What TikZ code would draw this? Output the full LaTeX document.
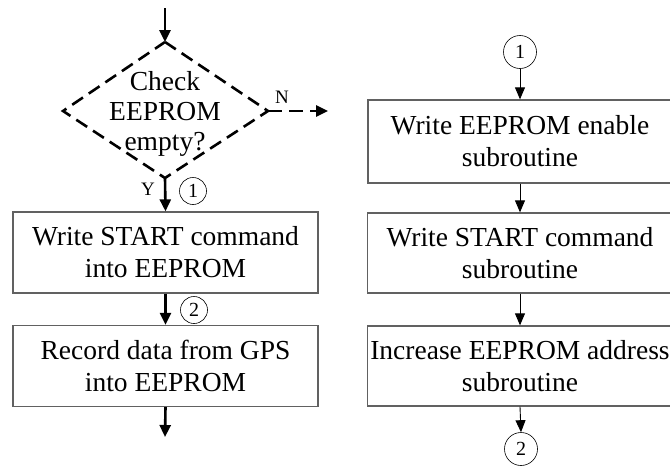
\documentclass[tikz,border=0pt]{standalone}
\usepackage{fontspec}
\setmainfont{Liberation Serif}
\usetikzlibrary{arrows.meta}

\begin{document}
\begin{tikzpicture}[x=1pt,y=-1pt,
  procbox/.style={draw=black!62, line width=1.3pt, minimum width=305pt,
    minimum height=81pt, align=center, inner sep=0pt,
    font=\fontsize{27.5}{32}\selectfont},
  bigflow/.style={line width=2.6pt, -{Triangle[width=11pt,length=12pt]}},
  thinflow/.style={line width=0.9pt, -{Triangle[width=10pt,length=12pt]}},
  connL/.style={circle, draw, line width=0.6pt, minimum size=27pt,
    inner sep=0pt, font=\fontsize{20}{20}\selectfont},
  connR/.style={circle, draw, line width=0.6pt, minimum size=33pt,
    inner sep=0pt, font=\fontsize{20}{20}\selectfont},
  branchlbl/.style={inner sep=0pt, font=\fontsize{19}{19}\selectfont},
  decision/.style={line width=2.6pt, dash pattern=on 13pt off 7pt}
]
\useasboundingbox (0,0) rectangle (670,466);

% ---------- left column ----------
\coordinate (entry) at (165,8);
\coordinate (dtop) at (165,42);
\coordinate (dright) at (268,111);
\coordinate (dbot) at (165,178);
\coordinate (dleft) at (63,111);
\coordinate (noexit) at (328,111);
\coordinate (exitL) at (165,437);

\draw[decision] (dtop) -- (dright) -- (dbot) -- (dleft) -- cycle;
\node[align=center, inner sep=0pt, font=\fontsize{27.5}{30}\selectfont]
  (dec) at (165,114) {Check\\EEPROM\\empty?};

\node[procbox] (wstart) at (165.5,252.5) {Write START command\\into EEPROM};
\node[procbox] (record) at (165.5,366) {Record data from GPS\\into EEPROM};

\draw[bigflow] (entry) -- (dtop);
\draw[bigflow, dash pattern=on 14pt off 7pt] (dright) -- (noexit);
\draw[bigflow] (dbot) -- (wstart.north);
\draw[bigflow] (wstart.south) -- (record.north);
\draw[bigflow] (record.south) -- (exitL);

\node[branchlbl] (nlbl) at (282,97) {N};
\node[branchlbl] (ylbl) at (148,189) {Y};
\node[connL] (c1a) at (193,191) {1};
\node[connL] (c2a) at (194,310) {2};

% ---------- right column ----------
\node[connR] (c1b) at (520,52) {1};
\node[procbox, minimum width=304pt, minimum height=83pt]
  (enable) at (520,141.5) {Write EEPROM enable\\subroutine};
\node[procbox, minimum height=80pt]
  (startsub) at (520,253) {Write START command\\subroutine};
\node[procbox, minimum height=80pt]
  (incaddr) at (520,366) {Increase EEPROM address\\subroutine};
\node[connR] (c2b) at (521,449) {2};

\draw[thinflow] (c1b) -- (enable.north);
\draw[thinflow] (enable.south) -- (startsub.north);
\draw[thinflow] (startsub.south) -- (incaddr.north);
\draw[thinflow] (incaddr.south) -- (c2b.north);
\end{tikzpicture}
\end{document}
